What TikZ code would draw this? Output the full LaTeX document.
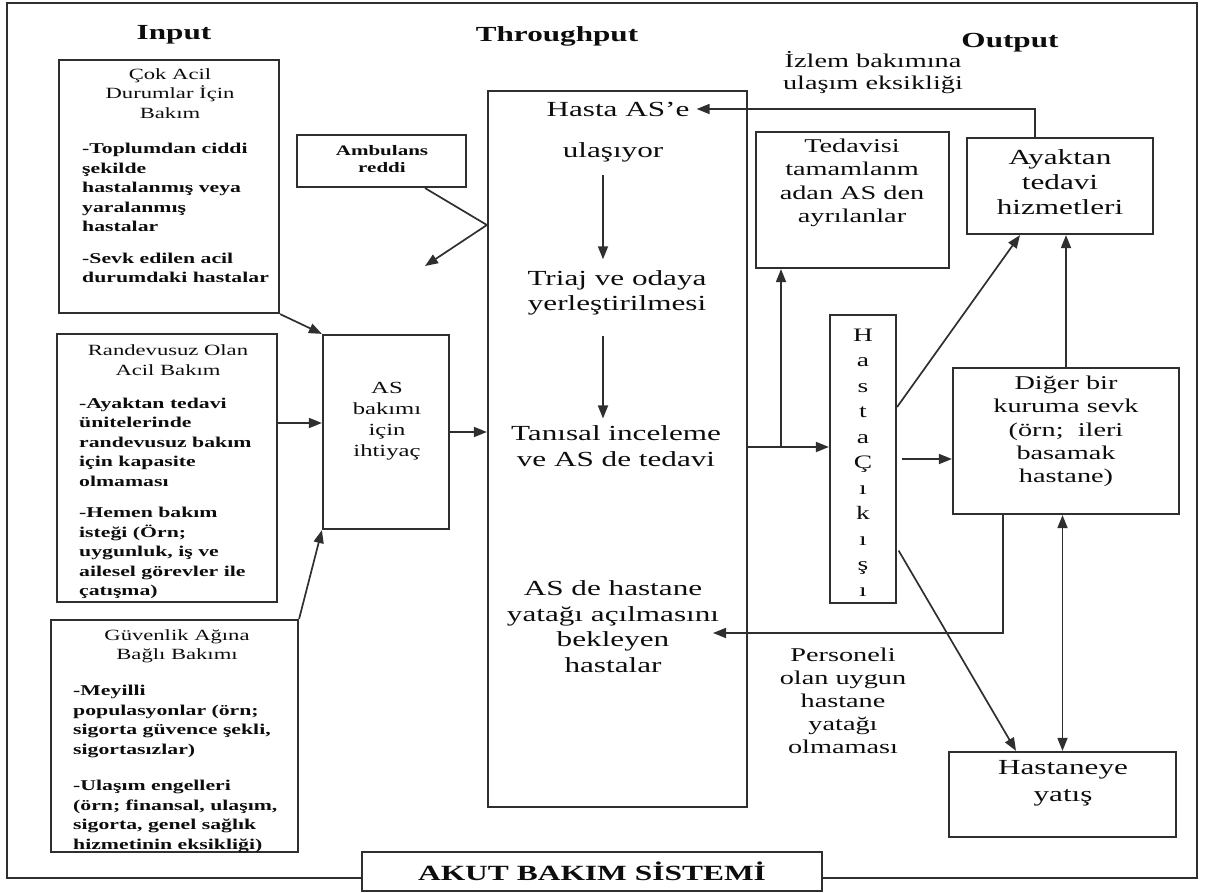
\documentclass[tikz,border=0pt]{standalone}
\usepackage{fontspec}
\setmainfont{Liberation Serif}[FakeStretch=1.45]
\usetikzlibrary{arrows.meta}
\definecolor{ink}{HTML}{2F2F2F}
\tikzset{>={Triangle[length=13pt,width=10pt]},
	box/.style={draw=ink,line width=2.2pt,inner sep=0pt},
	title/.style={inner sep=0pt,font=\bfseries\fontsize{21.5}{25}\selectfont},
	head/.style={align=center,inner sep=0pt,font=\fontsize{15.6}{19.5}\selectfont},
	bullets/.style={align=left,inner sep=0pt,anchor=west,font=\bfseries\fontsize{15}{19.5}\selectfont},
	mid/.style={align=center,inner sep=0pt,font=\fontsize{21.5}{25.5}\selectfont},
	outtxt/.style={align=center,inner sep=0pt,font=\fontsize{19.5}{23.5}\selectfont},
	wire/.style={draw=ink,line width=1.7pt}}

\begin{document}
\begin{tikzpicture}[x=1pt,y=-1pt,text=black!95]
	\useasboundingbox (0,0) rectangle (1205,893);
	\draw [box] (7,3) rectangle (1197,878);
	\node (inp) at (174,35) [title] {Input};
	\node (thr) at (557,36) [title] {Throughput};
	\node (outp) at (1010,43) [title] {Output};
	\node (c1) at (169,186.5) [box,minimum width=220,minimum height=253] {};
	\node (c2) at (167,468) [box,minimum width=220,minimum height=268] {};
	\node (c3) at (174.5,736) [box,minimum width=247,minimum height=232] {};
	\node (amb) at (381.5,161) [box,minimum width=169,minimum height=52] {};
	\node (need) at (386,432) [box,minimum width=126,minimum height=194] {};
	\node (central) at (617.5,449) [box,minimum width=259,minimum height=716] {};
	\node (tedavi) at (852.5,200) [box,minimum width=193,minimum height=136] {};
	\node (hc) at (863,459) [box,minimum width=66,minimum height=288] {};
	\node (ayak) at (1060,186) [box,minimum width=186,minimum height=96] {};
	\node (diger) at (1066,441) [box,minimum width=226,minimum height=146] {};
	\node (hosp) at (1062.5,794.5) [box,minimum width=227,minimum height=85] {};
	\node (akut) at (592,871.5) [box,fill=white,minimum width=460,minimum height=39,font=\bfseries\fontsize{21.7}{25}\selectfont] {AKUT BAKIM SİSTEMİ};
	\node (c1h) at (170,93.5) [head] {Çok Acil\\Durumlar İçin\\Bakım};
	\node (c1t) at (82,213) [bullets] {-Toplumdan ciddi\\şekilde\\hastalanmış veya\\yaralanmış\\hastalar\\[12pt]-Sevk edilen acil\\durumdaki hastalar};
	\node (c2h) at (168,360) [head] {Randevusuz Olan\\Acil Bakım};
	\node (c2t) at (79,498.5) [bullets] {-Ayaktan tedavi\\ünitelerinde\\randevusuz bakım\\için kapasite\\olmaması\\[12pt]-Hemen bakım\\isteği (Örn;\\uygunluk, iş ve\\ailesel görevler ile\\çatışma)};
	\node (c3h) at (177,646.5) [head] {Güvenlik Ağına\\Bağlı Bakımı};
	\node (c3t) at (73,769) [bullets] {-Meyilli\\populasyonlar (örn;\\sigorta güvence şekli,\\sigortasızlar)\\[17pt]-Ulaşım engelleri\\(örn; finansal, ulaşım,\\sigorta, genel sağlık\\hizmetinin eksikliği)};
	\node (ambt) at (382,159.5) [align=center,inner sep=0pt,font=\bfseries\fontsize{14.5}{17}\selectfont] {Ambulans\\reddi};
	\node (needt) at (387,421.5) [align=center,inner sep=0pt,font=\fontsize{17}{21}\selectfont] {AS\\bakımı\\için\\ihtiyaç};
	\node (hasta) at (618,109) [mid] {Hasta AS’e};
	\node (ulas) at (613,152) [mid] {ulaşıyor};
	\node (triaj) at (617,293) [mid] {Triaj ve odaya\\yerleştirilmesi};
	\node (tani) at (616,446) [mid] {Tanısal inceleme\\ve AS de tedavi};
	\node (wait) at (613,626.5) [mid] {AS de hastane\\yatağı açılmasını\\bekleyen\\hastalar};
	\node (tedt) at (852,183) [outtxt] {Tedavisi\\tamamlanm\\adan AS den\\ayrılanlar};
	\node (hct) at (863,462.5) [align=center,inner sep=0pt,font=\fontsize{19}{25.5}\selectfont] {H\\a\\s\\t\\a\\Ç\\ı\\k\\ı\\ş\\ı};
	\node (ayakt) at (1060,182) [mid,font=\fontsize{21.5}{25}\selectfont] {Ayaktan\\tedavi\\hizmetleri};
	\node (digt) at (1066,431.5) [outtxt,font=\fontsize{19.5}{23.3}\selectfont] {Diğer bir\\kuruma sevk\\(örn;\ \ ileri\\basamak\\hastane)};
	\node (hospt) at (1063,783.5) [mid,font=\fontsize{21.5}{27}\selectfont] {Hastaneye\\yatış};
	\node (izlem) at (873,73) [outtxt,font=\fontsize{19.5}{22}\selectfont] {İzlem bakımına\\ulaşım eksikliği};
	\node (pers) at (843,701) [outtxt,font=\fontsize{19.5}{23}\selectfont] {Personeli\\olan uygun\\hastane\\yatağı\\olmaması};
	\coordinate (j2) at ([yshift=45pt]c2.east);
	\coordinate (amb1) at ([xshift=43.5pt]amb.south);
	\coordinate (ambj) at ([yshift=224pt]central.west);
	\coordinate (rej) at (425,266);
	\coordinate (j3) at (781,447);
	\coordinate (j4) at (713,633);
	\draw [wire,->] (c1.south east) -- (need.north west);
	\draw [wire,->] (j2) -- (j2 -| need.west);
	\draw [wire,->] (c3.north east) -- (need.south west);
	\draw [wire] (amb1) -- (ambj);
	\draw [wire,->] (ambj) -- (rej);
	\draw [wire,->] (need.east) -- (need.east -| central.west);
	\draw [wire,->,shorten <=13pt,shorten >=11pt] ([xshift=-10pt]ulas.south) -- ([xshift=-14pt]triaj.north);
	\draw [wire,->,shorten <=20pt,shorten >=7pt] ([xshift=-14pt]triaj.south) -- ([xshift=-13pt]tani.north);
	\draw [wire,->] (j3 -| central.east) -- (j3 -| hc.west);
	\draw [wire,->] (j3) -- (j3 |- tedavi.south);
	\draw [wire,->] ([yshift=52pt]hc.east) -- ([xshift=-40pt]ayak.south);
	\draw [wire,->,shorten <=5pt] (hc.east) -- (hc.east -| diger.west);
	\draw [wire,->,shorten <=3pt] ([yshift=-89pt]hc.east) -- ([xshift=-46.5pt]hosp.north);
	\draw [wire,->] (diger.north) -- (diger.north |- ayak.south);
	\draw [wire,<->] (hosp.north |- diger.south) -- (hosp.north);
	\draw [wire,->] ([xshift=-63pt]diger.south) |- (j4);
	\draw [wire,->,shorten >=7pt] ([xshift=-25pt]ayak.north) |- (hasta.east);
\end{tikzpicture}
\end{document}
